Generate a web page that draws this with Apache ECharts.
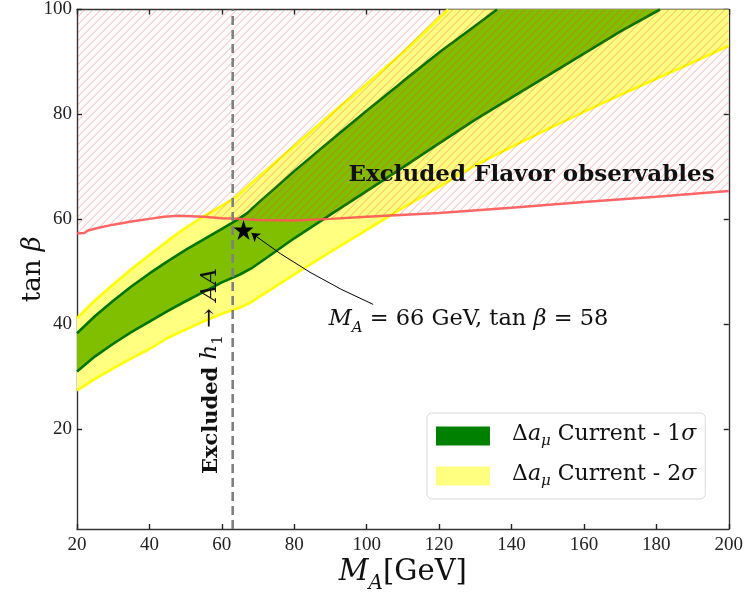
<!DOCTYPE html>
<html>
<head>
<meta charset="utf-8">
<script src="https://cdn.jsdelivr.net/npm/echarts@6/dist/echarts.min.js"></script>
<style>
  html, body { margin: 0; padding: 0; background: #fff; }
  #main { width: 746px; height: 599px; }
</style>
</head>
<body>
<div id="main"></div>
<script type="text/javascript">
// ---- data (M_A in GeV, tan beta) ----
var xTicks = [20, 40, 60, 80, 100, 120, 140, 160, 180, 200];
var yTicks = [20, 40, 60, 80, 100];

// 1 sigma band (green)
var g1UpX = [20, 25, 30, 35, 40, 45, 50, 55, 60, 64, 67, 70, 80, 90, 100, 110, 120, 130, 136];
var g1UpY = [38.3, 41.6, 44.5, 47.2, 49.7, 52.0, 54.2, 56.2, 58.2, 59.8, 61.2, 63.1, 69.2, 75.0, 80.7, 86.3, 91.8, 96.9, 100];
var g1LoX = [20, 25, 30, 35, 40, 45, 50, 55, 60, 65, 68, 72, 80, 90, 100, 110, 120, 130, 140, 150, 160, 170, 181];
var g1LoY = [31.0, 33.9, 36.3, 38.5, 40.5, 42.5, 44.4, 46.2, 48.0, 49.5, 50.6, 52.5, 56.4, 60.9, 65.4, 69.9, 74.5, 79.0, 83.2, 87.4, 91.6, 95.8, 100];

// 2 sigma band (yellow)
var y2UpX = [20, 25, 30, 35, 40, 45, 50, 55, 60, 64, 67.5, 80, 90, 100, 110, 122.5];
var y2UpY = [41.2, 44.6, 47.6, 50.5, 53.2, 55.9, 58.4, 60.6, 62.6, 64.3, 66.5, 74.0, 80.0, 85.8, 91.8, 100];
var y2LoX = [20, 25, 30, 35, 40, 45, 50, 55, 60, 65, 68, 70, 80, 90, 100, 110, 120, 130, 140, 150, 160, 170, 180, 190, 200];
var y2LoY = [27.4, 29.6, 31.6, 33.5, 35.3, 37.4, 39.0, 40.6, 42.0, 43.2, 44.2, 45.1, 49.5, 53.8, 58.0, 62.2, 66.2, 70.3, 73.8, 77.2, 80.5, 83.7, 86.8, 89.9, 93.1];

// flavour exclusion boundary (red)
var flavX = [20, 22, 23, 26, 30, 35, 40, 44, 48, 55, 60, 65, 70, 80, 90, 100, 120, 140, 160, 180, 200];
var flavY = [57.3, 57.4, 57.9, 58.4, 59.0, 59.6, 60.1, 60.5, 60.7, 60.5, 60.2, 60.1, 59.9, 59.8, 60.1, 60.5, 61.2, 62.2, 63.3, 64.3, 65.4];

var hExcl = 63;               // excluded h1 -> AA below this M_A
var bench = [66, 58];         // benchmark point
var arrowFrom = [101.8, 43.8];
var arrowTo = [68.2, 57.4];
var benchLabelAt = [89.5, 40.6];
var flavLabelAt = [95, 68.5];
var hLabelAt = [57.4, 31.1];

var yMin = 1, yMax = 100, xMin = 20, xMax = 200;

function pairs(xs, ys) {
    var out = [];
    for (var i = 0; i < xs.length; i++) out.push([xs[i], ys[i]]);
    return out;
}

// band polygon: upper edge, then along top border, then lower edge reversed
function bandPoly(upX, upY, loX, loY) {
    var pts = pairs(upX, upY);
    if (loY[loY.length - 1] < yMax) {
        pts.push([xMax, yMax]);
    } else {
        pts.push([loX[loX.length - 1], yMax]);
    }
    return pts.concat(pairs(loX, loY).reverse());
}

var yellowPoly = bandPoly(y2UpX, y2UpY, y2LoX, y2LoY);
var greenPoly = bandPoly(g1UpX, g1UpY, g1LoX, g1LoY);
var flavPoly = pairs(flavX, flavY).concat([[xMax, yMax], [xMin, yMax]]);

function polySeries(name, poly, fill, z) {
    return {
        name: name,
        type: 'custom',
        z: z,
        silent: true,
        itemStyle: { color: fill },
        data: [[0]],
        renderItem: function (params, api) {
            var p = poly.map(function (d) { return api.coord(d); });
            return { type: 'polygon', shape: { points: p }, style: { fill: fill, stroke: null } };
        }
    };
}

// hatched region: 45deg lines clipped to the polygon
function hatchSeries(poly, z) {
    return {
        type: 'custom', z: z, silent: true,
        itemStyle: { color: '#ff3b3b' },
        data: [[0]],
        renderItem: function (params, api) {
            var p = poly.map(function (d) { return api.coord(d); });
            var x0 = Infinity, x1 = -Infinity, y0 = Infinity, y1 = -Infinity;
            p.forEach(function (q) {
                x0 = Math.min(x0, q[0]); x1 = Math.max(x1, q[0]);
                y0 = Math.min(y0, q[1]); y1 = Math.max(y1, q[1]);
            });
            var kids = [];
            for (var c = x0 + y0; c <= x1 + y1; c += 8) {
                kids.push({
                    type: 'line',
                    shape: { x1: x0, y1: c - x0, x2: x1, y2: c - x1 },
                    style: { stroke: '#ff3b3b', lineWidth: 1, opacity: 0.42 }
                });
            }
            return {
                type: 'group',
                clipPath: { type: 'polygon', shape: { points: p } },
                children: kids
            };
        }
    };
}

function edge(xs, ys, color, z) {
    return {
        type: 'line', z: z, silent: true, showSymbol: false, symbol: 'none',
        data: pairs(xs, ys),
        lineStyle: { color: color, width: 2.6 }
    };
}

var serif = 'Liberation Serif';
var dserif = 'DejaVu Serif';
var nameLegend1 = '\u0394a_mu Current - 1sigma';
var nameLegend2 = '\u0394a_mu Current - 2sigma';
var ink = '#111';

function axisBox(extra) {
    var a = {
        type: 'value',
        axisLine: { onZero: false, lineStyle: { color: '#333', width: 1.4 } },
        axisTick: { inside: true, length: 5, lineStyle: { color: '#222', width: 1.4 } },
        axisLabel: { fontFamily: serif, fontSize: 19, color: '#222' },
        splitLine: { show: false }
    };
    for (var k in extra) {
        if (typeof extra[k] === 'object' && a[k] && !Array.isArray(extra[k])) {
            for (var j in extra[k]) a[k][j] = extra[k][j];
        } else {
            a[k] = extra[k];
        }
    }
    return a;
}

var myChart = echarts.init(document.getElementById('main'));
var option = {
    animation: false,
    grid: { left: 77, right: 13, top: 7, bottom: 67 },
    xAxis: [
        axisBox({
            min: xMin, max: xMax, interval: 20,
            axisLabel: { margin: 7 },
            name: '{i|M}{s|A}{r|[GeV]}',
            nameLocation: 'middle', nameGap: 29, nameMoveOverlap: false,
            nameTextStyle: {
                verticalAlign: 'top',
                rich: {
                    i: { fontFamily: dserif, fontStyle: 'italic', fontSize: 29, color: ink, padding: [0, 0, 7, 0], verticalAlign: 'bottom' },
                    s: { fontFamily: dserif, fontStyle: 'italic', fontSize: 20, color: ink, verticalAlign: 'bottom' },
                    r: { fontFamily: dserif, fontSize: 29, color: ink, padding: [0, 0, 7, 0], verticalAlign: 'bottom' }
                }
            }
        }),
        axisBox({ position: 'top', min: xMin, max: xMax, interval: 20, axisLabel: { show: false } })
    ],
    yAxis: [
        axisBox({
            min: yMin, max: yMax,
            axisTick: { customValues: yTicks },
            axisLabel: { margin: 5, customValues: yTicks },
            name: '{r|tan }{i|\u03b2}',
            nameLocation: 'middle', nameGap: 31, nameRotate: 90, nameMoveOverlap: false,
            nameTextStyle: {
                verticalAlign: 'bottom',
                rich: {
                    r: { fontFamily: dserif, fontSize: 26, color: ink },
                    i: { fontFamily: dserif, fontStyle: 'italic', fontSize: 26, color: ink }
                }
            }
        }),
        axisBox({ position: 'right', min: yMin, max: yMax, axisTick: { customValues: yTicks }, axisLabel: { show: false } })
    ],
    legend: {
        left: 427, top: 413,
        orient: 'vertical',
        itemWidth: 54, itemHeight: 19, itemGap: 14,
        padding: [10, 9, 10, 9],
        backgroundColor: '#fff',
        borderColor: '#d9d9d9', borderWidth: 1, borderRadius: 5,
        icon: 'rect',
        data: [
            { name: nameLegend1, itemStyle: { color: '#008000' } },
            { name: nameLegend2, itemStyle: { color: '#ffff80' } }
        ],
        formatter: function (name) {
            var k = name === nameLegend1 ? '1' : '2';
            return '{g|}{r|\u0394}{i|a}{s|\u03bc}{r| Current - ' + k + '}{i|\u03c3}';
        },
        textStyle: {
            rich: {
                g: { width: 17 },
                r: { fontFamily: dserif, fontSize: 22, color: ink, padding: [0, 0, 4, 0], verticalAlign: 'bottom' },
                i: { fontFamily: dserif, fontStyle: 'italic', fontSize: 22, color: ink, padding: [0, 0, 4, 0], verticalAlign: 'bottom' },
                s: { fontFamily: dserif, fontStyle: 'italic', fontSize: 15, color: ink, verticalAlign: 'bottom' }
            }
        }
    },
    series: [
        polySeries(nameLegend2, yellowPoly, '#ffff80', 1),
        edge(y2UpX, y2UpY, '#ffff00', 2),
        edge(y2LoX, y2LoY, '#ffff00', 2),
        polySeries(nameLegend1, greenPoly, '#80be00', 3),
        edge(g1UpX, g1UpY, '#007400', 4),
        edge(g1LoX, g1LoY, '#007400', 4),
        hatchSeries(flavPoly, 5),
        {
            type: 'line', z: 6, silent: true, showSymbol: false, symbol: 'none',
            data: pairs(flavX, flavY),
            lineStyle: { color: '#ff5555', width: 2.5, opacity: 0.9 }
        },
        {
            type: 'line', z: 7, silent: true, showSymbol: false, symbol: 'none',
            data: [[hExcl, yMin], [hExcl, yMax]],
            lineStyle: { color: '#808080', width: 2.6, type: [9, 5] }
        },
        {
            type: 'lines', coordinateSystem: 'cartesian2d', z: 8, silent: true,
            symbol: ['none', 'arrow'], symbolSize: 8,
            lineStyle: { color: '#000', width: 1, curveness: 0.06, opacity: 1 },
            data: [{ coords: [arrowFrom, arrowTo] }]
        },
        {
            type: 'scatter', z: 9, silent: true,
            symbol: 'path://M50,0 L61,35 L98,35 L68,57 L79,91 L50,70 L21,91 L32,57 L2,35 L39,35 Z',
            symbolSize: 20,
            itemStyle: { color: '#000', opacity: 1 },
            data: [bench]
        },
        {
            type: 'scatter', z: 10, silent: true, symbolSize: 0,
            itemStyle: { opacity: 1 },
            data: [
                { value: benchLabelAt, label: {
                    show: true, position: 'inside', align: 'left', verticalAlign: 'middle',
                    formatter: '{i|M}{s|A}{r| = 66 GeV, tan }{i|\u03b2}{r| = 58}',
                    rich: {
                        i: { fontFamily: dserif, fontStyle: 'italic', fontSize: 22.5, color: ink, padding: [0, 0, 5, 0], verticalAlign: 'bottom' },
                        s: { fontFamily: dserif, fontStyle: 'italic', fontSize: 15, color: ink, verticalAlign: 'bottom' },
                        r: { fontFamily: dserif, fontSize: 22.5, color: ink, padding: [0, 0, 5, 0], verticalAlign: 'bottom' }
                    }
                } },
                { value: flavLabelAt, label: {
                    show: true, position: 'inside', align: 'left', verticalAlign: 'middle',
                    formatter: 'Excluded Flavor observables',
                    fontFamily: dserif, fontWeight: 'bold', fontSize: 23, color: ink
                } },
                { value: hLabelAt, label: {
                    show: true, position: 'inside', align: 'center', verticalAlign: 'middle', rotate: 90,
                    formatter: '{b|Excluded }{i|h}{s|1}{r| \u2192 }{i|AA}',
                    rich: {
                        b: { fontFamily: dserif, fontWeight: 'bold', fontSize: 21, color: ink, padding: [0, 0, 4, 0], verticalAlign: 'bottom' },
                        i: { fontFamily: dserif, fontStyle: 'italic', fontSize: 23, color: ink, padding: [0, 0, 4, 0], verticalAlign: 'bottom' },
                        s: { fontFamily: dserif, fontSize: 15, color: ink, verticalAlign: 'bottom' },
                        r: { fontFamily: dserif, fontSize: 23, color: ink, padding: [0, 0, 4, 0], verticalAlign: 'bottom' }
                    }
                } }
            ]
        }
    ]
};
myChart.setOption(option);
</script>
</body>
</html>
